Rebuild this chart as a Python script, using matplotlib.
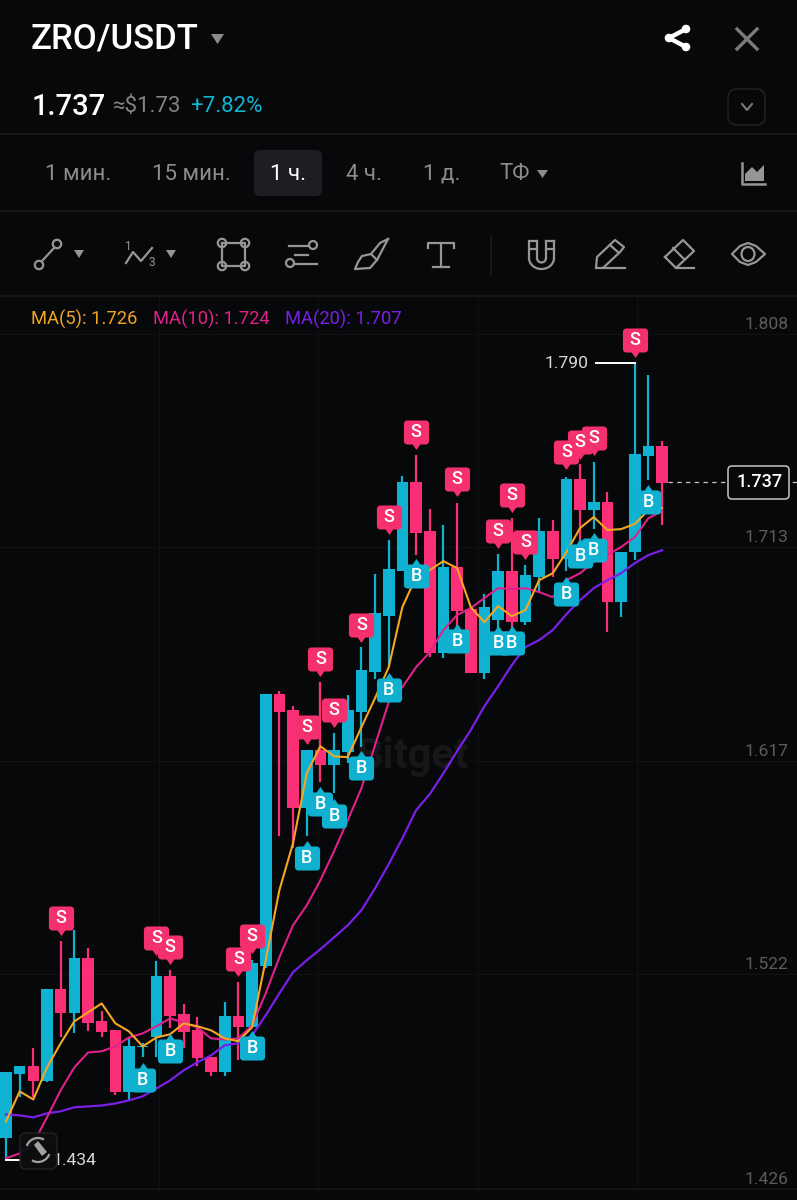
import matplotlib
matplotlib.use('Agg')
import matplotlib.pyplot as plt
import numpy as np
from matplotlib.path import Path
from matplotlib.patches import FancyBboxPatch, Circle, Ellipse, Arc, Polygon

plt.rcParams['font.family'] = ['Roboto', 'DejaVu Sans']

# candles, oldest first
opens = [1.4441, 1.4723, 1.4759, 1.4692, 1.5103, 1.4996, 1.5242, 1.4960, 1.4920, 1.4643,
         1.4844, 1.4888, 1.5161, 1.4991, 1.4920, 1.4799, 1.4732, 1.4982, 1.4933, 1.5206,
         1.6422, 1.6350, 1.5912, 1.6171, 1.6104, 1.6162, 1.6341, 1.6520, 1.6770, 1.6971,
         1.7369, 1.7150, 1.6605, 1.6989, 1.6802, 1.6515, 1.6752, 1.6971, 1.6743, 1.6945,
         1.7150, 1.7025, 1.7383, 1.7244, 1.7280, 1.6833, 1.7056, 1.7485, 1.7530]
highs = [1.4732, 1.4759, 1.4839, 1.5103, 1.5318, 1.5367, 1.5286, 1.5005, 1.4920, 1.4884,
         1.4862, 1.5228, 1.5188, 1.5036, 1.4978, 1.4799, 1.5045, 1.5134, 1.5233, 1.6422,
         1.6435, 1.6368, 1.6171, 1.6475, 1.6247, 1.6417, 1.6632, 1.6958, 1.7110, 1.7396,
         1.7490, 1.7249, 1.7177, 1.7275, 1.6802, 1.6869, 1.7047, 1.7208, 1.6998, 1.7208,
         1.7199, 1.7392, 1.7450, 1.7459, 1.7325, 1.7056, 1.7901, 1.7848, 1.7553]
lows = [1.4343, 1.4620, 1.4620, 1.4687, 1.4888, 1.4906, 1.4915, 1.4888, 1.4629, 1.4607,
        1.4799, 1.4799, 1.4929, 1.4839, 1.4759, 1.4714, 1.4714, 1.4786, 1.4933, 1.5197,
        1.5787, 1.5733, 1.5787, 1.6028, 1.5979, 1.6113, 1.6185, 1.6489, 1.6542, 1.6971,
        1.7043, 1.6587, 1.6583, 1.6721, 1.6515, 1.6489, 1.6708, 1.6708, 1.6730, 1.6873,
        1.6945, 1.6971, 1.7079, 1.7159, 1.6699, 1.6766, 1.7021, 1.7378, 1.7177]
closes = [1.4732, 1.4759, 1.4692, 1.5103, 1.4996, 1.5242, 1.4951, 1.4911, 1.4643, 1.4848,
          1.4848, 1.5161, 1.4982, 1.4911, 1.4795, 1.4732, 1.4982, 1.4933, 1.5219, 1.6422,
          1.6341, 1.5912, 1.6171, 1.6104, 1.6171, 1.6350, 1.6529, 1.6784, 1.6980, 1.7369,
          1.7141, 1.6605, 1.6989, 1.6793, 1.6515, 1.6811, 1.6971, 1.6743, 1.6954, 1.7150,
          1.7025, 1.7383, 1.7244, 1.7280, 1.6833, 1.7056, 1.7494, 1.7530, 1.7365]

ma5 = [1.4513, 1.4647, 1.4611, 1.4754, 1.4862, 1.4960, 1.5000, 1.5040, 1.4951, 1.4915,
       1.4848, 1.4888, 1.4902, 1.4951, 1.4938, 1.4920, 1.4884, 1.4871, 1.4933, 1.5233,
       1.5546, 1.5756, 1.6068, 1.6189, 1.6144, 1.6140, 1.6274, 1.6404, 1.6542, 1.6811,
       1.6945, 1.6976, 1.7016, 1.6985, 1.6811, 1.6743, 1.6815, 1.6770, 1.6797, 1.6931,
       1.6962, 1.7056, 1.7164, 1.7213, 1.7155, 1.7159, 1.7182, 1.7244, 1.7253]
ma10 = [1.4348, 1.4370, 1.4415, 1.4531, 1.4652, 1.4754, 1.4821, 1.4826, 1.4848, 1.4888,
        1.4906, 1.4938, 1.4973, 1.4955, 1.4933, 1.4884, 1.4879, 1.4884, 1.4942, 1.5085,
        1.5246, 1.5389, 1.5478, 1.5590, 1.5720, 1.5858, 1.6001, 1.6194, 1.6386, 1.6453,
        1.6542, 1.6609, 1.6708, 1.6775, 1.6806, 1.6851, 1.6895, 1.6891, 1.6895, 1.6878,
        1.6855, 1.6931, 1.6962, 1.7012, 1.7043, 1.7079, 1.7123, 1.7208, 1.7240]
ma20 = [1.4544, 1.4540, 1.4531, 1.4549, 1.4558, 1.4576, 1.4580, 1.4584, 1.4593, 1.4607,
        1.4625, 1.4660, 1.4696, 1.4741, 1.4777, 1.4808, 1.4853, 1.4862, 1.4897, 1.4987,
        1.5085, 1.5179, 1.5233, 1.5282, 1.5335, 1.5389, 1.5456, 1.5554, 1.5662, 1.5778,
        1.5903, 1.5975, 1.6068, 1.6167, 1.6261, 1.6368, 1.6457, 1.6551, 1.6632, 1.6663,
        1.6708, 1.6779, 1.6842, 1.6895, 1.6931, 1.6962, 1.7007, 1.7043, 1.7065]

sell_idx = [4, 11, 12, 17, 18, 22, 23, 24, 26, 28, 30, 33, 36, 37, 38, 41, 42, 43, 46]
sell_px = [1.5420, 1.5331, 1.5291, 1.5237, 1.5340, 1.6274, 1.6578, 1.6350, 1.6730, 1.7213,
           1.7593, 1.7383, 1.7150, 1.7311, 1.7101, 1.7503, 1.7548, 1.7566, 1.8004]
buy_idx = [10, 12, 18, 22, 23, 24, 26, 28, 30, 33, 36, 37, 41, 42, 43, 47]
buy_px = [1.4696, 1.4826, 1.4839, 1.5689, 1.5930, 1.5876, 1.6091, 1.6440, 1.6949, 1.6659,
          1.6650, 1.6650, 1.6869, 1.7038, 1.7065, 1.7280]

price_ticks = [1.808, 1.713, 1.617, 1.522, 1.426]
grid_levels = [1.8031, 1.7081, 1.6121, 1.5171, 1.4211]
vgrid_idx = [11.2, 22.83, 34.53, 46.2]
last_price = 1.737
hi_price = 1.790
lo_price = 1.434

BG = '#070809'
UP = '#0fb2d2'
DOWN = '#fb2f78'
GREY = '#969696'
LINE = '#1a1b1d'

fig = plt.figure(figsize=(7.97, 12), dpi=100, facecolor=BG)
H = 1200.0

# chart area, y 297 to 1190 px
ax = fig.add_axes([0, 1 - 1190 / H, 1, (1190 - 297) / H])
ax.set_facecolor(BG)
ax.set_xlim(-0.439, 57.87)
ax.set_ylim(1.42065, 1.8196)
for s in ax.spines.values():
    s.set_visible(False)
ax.set_xticks([])
ax.set_yticks(price_ticks)
ax.yaxis.tick_right()
ax.tick_params(axis='y', length=0, pad=-37.5, labelsize=12.6, labelcolor='#5c5c5c')

for g in grid_levels:
    ax.axhline(g, color='#101113', lw=0.8, zorder=0)
for v in vgrid_idx:
    ax.axvline(v, color='#101113', lw=0.8, zorder=0)

ax.text(25.6, 1.6145, 'Bitget', color='#171719', fontsize=30, fontweight='bold',
        ha='left', va='center', zorder=0.5)

x = np.arange(len(opens))
o = np.array(opens)
c = np.array(closes)
colors = [UP if b >= a else DOWN for a, b in zip(opens, closes)]
ax.vlines(x, lows, highs, colors=colors, lw=1.6, zorder=2)
ax.bar(x, np.abs(c - o), bottom=np.minimum(o, c), width=0.85, color=colors, zorder=3)

ax.plot(x, ma20, color='#7a1fe6', lw=1.6, zorder=4)
ax.plot(x, ma10, color='#e0218c', lw=1.5, zorder=4)
ax.plot(x, ma5, color='#f5a623', lw=1.5, zorder=4)


def tag_path(up):
    # rounded box with a small pointer, y flipped for buy tags
    r = 3.5
    w = 11.5
    h = 11
    t = 16.0
    v = [(-w + r, -h), (-3.5, -h), (0, -t), (3.5, -h), (w - r, -h), (w, -h), (w, -h + r),
         (w, h - r), (w, h), (w - r, h), (-w + r, h), (-w, h), (-w, h - r),
         (-w, -h + r), (-w, -h), (-w + r, -h), (-w + r, -h)]
    k = [Path.MOVETO, Path.LINETO, Path.LINETO, Path.LINETO, Path.LINETO, Path.CURVE3, Path.CURVE3,
         Path.LINETO, Path.CURVE3, Path.CURVE3, Path.LINETO, Path.CURVE3, Path.CURVE3,
         Path.LINETO, Path.CURVE3, Path.CURVE3, Path.CLOSEPOLY]
    v = np.array(v)
    if up:
        v[:, 1] = -v[:, 1]
    return Path(v, k)


size = (35 * 0.72) ** 2
ax.scatter(sell_idx, sell_px, marker=tag_path(False), s=size, color='#f5306f', lw=0, zorder=5)
for i, p in zip(sell_idx, sell_px):
    ax.text(i, p, 'S', color='white', fontsize=13, fontweight='medium', ha='center', va='center', zorder=6)
ax.scatter(buy_idx, buy_px, marker=tag_path(True), s=size, color='#0fb0d0', lw=0, zorder=7)
for i, p in zip(buy_idx, buy_px):
    ax.text(i, p, 'B', color='white', fontsize=13, fontweight='medium', ha='center', va='center', zorder=8)

# high / low / last price labels
ax.plot([43.2, 46], [hi_price, hi_price], color='white', lw=1.4, zorder=5)
ax.text(42.6, hi_price, f'{hi_price:.3f}', color='#d8d8d8', fontsize=12.6, ha='right', va='center', zorder=6)
ax.plot([-0.03, 1.0], [lo_price, lo_price], color='white', lw=1.4, zorder=5)
ax.text(6.65, lo_price, f'{lo_price:.3f}', color='#d8d8d8', fontsize=12.6, ha='right', va='center', zorder=6)
ax.plot([48.4, 52.6], [last_price, last_price], color='#c8c8c8', lw=0.9, ls=(0, (3.5, 3.5)), zorder=5)
ax.plot([57.6, 57.87], [last_price, last_price], color='#c8c8c8', lw=0.9, zorder=5)
ax.text(55.1, last_price, f'{last_price:.3f}', color='white', fontsize=13, fontweight='medium',
        ha='center', va='center', zorder=6)

# app chrome on top, in pixels
ui = fig.add_axes([0, 0, 1, 1], zorder=10)
ui.set_xlim(0, 797)
ui.set_ylim(1200, 0)
ui.axis('off')
ui.patch.set_alpha(0)

ui.add_patch(FancyBboxPatch((728, 466), 61, 33, boxstyle='round,pad=0,rounding_size=4',
                            fc='none', ec='#c4c4c4', lw=1.1))

for yy in [134, 211, 296]:
    ui.plot([0, 797], [yy, yy], color=LINE, lw=1.2)
ui.plot([0, 797], [1188.5, 1188.5], color='#141517', lw=1.2)

ui.text(31, 39, 'ZRO/USDT', color='white', fontsize=25, fontweight='medium', va='center')
ui.add_patch(Polygon([(211, 34), (224, 34), (217.5, 44)], fc='#8c8c8c', ec='none'))
ui.plot([686, 669, 686], [29, 38, 47], color='white', lw=3.2)
for cx, cy in [(686, 29), (669, 38), (686, 47)]:
    ui.add_patch(Circle((cx, cy), 4.3, fc='white', ec='none'))
ui.plot([737, 757], [29, 49], color='#7b7b7b', lw=2.4)
ui.plot([757, 737], [29, 49], color='#7b7b7b', lw=2.4)

ui.text(32, 107, '1.737', color='white', fontsize=21, fontweight='medium', va='center')
ui.text(113, 107, '≈$1.73', color='#838383', fontsize=16, va='center')
ui.text(190, 107, '+7.82%', color='#12b4d4', fontsize=16, va='center')
ui.add_patch(FancyBboxPatch((728, 89), 37, 36, boxstyle='round,pad=0,rounding_size=9',
                            fc=BG, ec='#1f2022', lw=1.2))
ui.plot([742, 747, 752], [104, 110, 104], color='#7a7a7a', lw=1.5)

# timeframe row
ui.add_patch(FancyBboxPatch((254, 150), 68, 46, boxstyle='round,pad=0,rounding_size=6',
                            fc='#1c1e21', ec='none'))
tf_labels = ['1 мин.', '15 мин.', '1 ч.', '4 ч.', '1 д.', 'ТФ']
tf_x = [45, 152, 270, 346, 423, 499]
for lab, xx in zip(tf_labels, tf_x):
    col = 'white' if lab == '1 ч.' else '#8c8c8c'
    ui.text(xx, 174, lab, color=col, fontsize=16, va='center')
ui.add_patch(Polygon([(537, 170), (548, 170), (542.5, 178)], fc='#8c8c8c', ec='none'))
ui.plot([742, 742, 765], [163, 184, 184], color=GREY, lw=1.8)
ui.add_patch(Polygon([(745, 181), (745, 174), (752, 167), (757, 172), (764, 165), (764, 181)], fc=GREY, ec='none'))

# drawing tool row
lw = 1.6
for cx, cy in [(39, 265), (57, 244)]:
    ui.add_patch(Circle((cx, cy), 4.2, fc='none', ec=GREY, lw=lw))
ui.plot([42, 54], [261, 248], color=GREY, lw=lw)
ui.add_patch(Polygon([(74, 250), (84, 250), (79, 258)], fc=GREY, ec='none'))

ui.plot([126, 133, 141, 152], [263, 252, 261, 248], color=GREY, lw=lw)
ui.text(128, 246, '1', color=GREY, fontsize=8.5, ha='center', va='center')
ui.text(152, 263, '3', color=GREY, fontsize=8.5, ha='center', va='center')
ui.add_patch(Polygon([(166, 250), (176, 250), (171, 258)], fc=GREY, ec='none'))

ui.plot([222, 245, 245, 222, 222], [243, 243, 266, 266, 243], color=GREY, lw=lw)
for cx, cy in [(222, 243), (245, 243), (222, 266), (245, 266)]:
    ui.add_patch(Circle((cx, cy), 4.2, fc=BG, ec=GREY, lw=lw))

ui.plot([289, 309], [246, 246], color=GREY, lw=lw)
ui.plot([295, 308], [255, 255], color=GREY, lw=lw)
ui.plot([295, 317], [264, 264], color=GREY, lw=lw)
ui.add_patch(Circle((313, 245), 4, fc=BG, ec=GREY, lw=lw))
ui.add_patch(Circle((290, 263), 4, fc=BG, ec=GREY, lw=lw))

# brush: handle and bristle head
ui.plot([388, 380, 371, 377, 388], [239, 243, 254, 260, 239], color=GREY, lw=lw)
ui.plot([371, 362, 358, 355, 370, 377], [254, 256, 262, 269, 268, 260], color=GREY, lw=lw)

ui.plot([428, 428, 454, 454], [248, 243, 243, 248], color=GREY, lw=lw)
ui.plot([441, 441], [243, 267], color=GREY, lw=lw)
ui.plot([433, 449], [267, 267], color=GREY, lw=lw)
ui.plot([491, 491], [235, 275], color='#1a1b1d', lw=1.2)

ui.plot([529, 529], [241, 258], color=GREY, lw=lw)
ui.plot([554, 554], [241, 258], color=GREY, lw=lw)
ui.plot([537, 537], [241, 258], color=GREY, lw=lw)
ui.plot([546, 546], [241, 258], color=GREY, lw=lw)
ui.plot([529, 537], [241, 241], color=GREY, lw=lw)
ui.plot([546, 554], [241, 241], color=GREY, lw=lw)
ui.plot([529, 537], [249, 249], color=GREY, lw=lw)
ui.plot([546, 554], [249, 249], color=GREY, lw=lw)
ui.add_patch(Arc((541.5, 258), 25, 22, theta1=0, theta2=180, ec=GREY, lw=lw))
ui.add_patch(Arc((541.5, 258), 9, 9, theta1=0, theta2=180, ec=GREY, lw=lw))

ui.plot([596, 597, 615, 624, 620, 603, 597], [268, 257, 240, 247, 252, 268, 268], color=GREY, lw=lw)
ui.plot([610, 619], [245, 253], color=GREY, lw=lw)
ui.plot([603, 625], [268, 268], color=GREY, lw=lw)

ui.plot([665, 683, 694, 676, 665], [257, 240, 251, 268, 257], color=GREY, lw=lw)
ui.plot([673, 684], [248, 259], color=GREY, lw=lw)
ui.plot([676, 694], [268, 268], color=GREY, lw=lw)

ui.add_patch(Polygon([(732, 254), (740, 246), (748, 243), (756, 246), (765, 254),
                      (756, 262), (748, 265), (740, 262)], fc='none', ec=GREY, lw=lw, joinstyle='round'))
ui.add_patch(Ellipse((748, 254), 13, 14, fc='none', ec=GREY, lw=lw))

# moving average legend
ui.text(31, 319, 'MA(5): 1.726', color='#f0a426', fontsize=13.2, va='center')
ui.text(153, 319, 'MA(10): 1.724', color='#e0218c', fontsize=13.2, va='center')
ui.text(285, 319, 'MA(20): 1.707', color='#7a1fe6', fontsize=13.2, va='center')

# rotate button over the low label
ui.add_patch(FancyBboxPatch((20, 1133), 37, 36, boxstyle='round,pad=0,rounding_size=6',
                            fc='#0d0e10', ec='#242527', lw=1, alpha=0.92))
ui.add_patch(Polygon([(34, 1145), (38, 1141), (47, 1152), (42, 1156)], fc='#a2a2a2', ec='none'))
ui.add_patch(Arc((38, 1150), 24, 24, theta1=200, theta2=300, ec='#a2a2a2', lw=1.6))
ui.add_patch(Arc((38, 1150), 24, 24, theta1=20, theta2=120, ec='#a2a2a2', lw=1.6))

fig.savefig('out.png', dpi=100, facecolor=BG)
